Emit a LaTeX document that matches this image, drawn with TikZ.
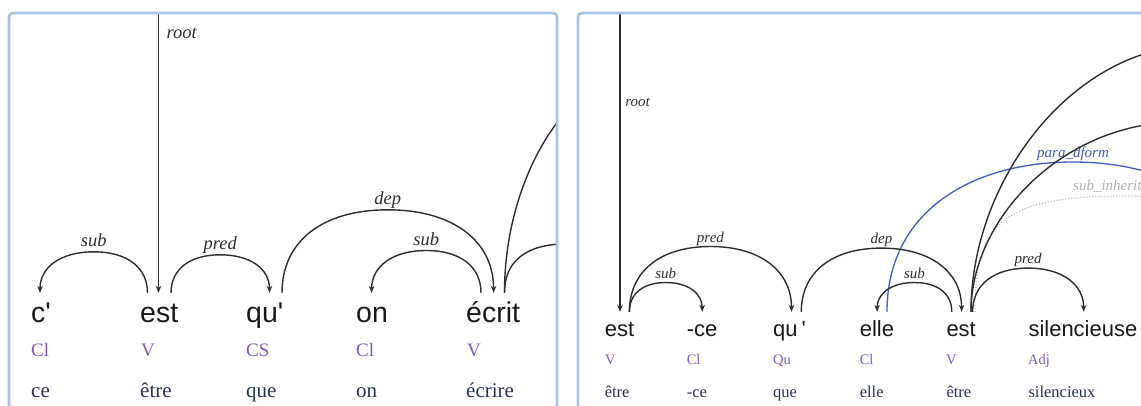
\documentclass[tikz,border=0pt]{standalone}
\usepackage{fontspec}
\setmainfont{Liberation Serif}
\newfontfamily\wordfont{Liberation Sans}[Ligatures=TeXOff]
\usetikzlibrary{arrows.meta,calc}
\definecolor{panelblue}{RGB}{166,194,228}
\definecolor{arcgray}{RGB}{45,45,45}
\definecolor{poscol}{RGB}{128,88,188}
\definecolor{lemcol}{RGB}{38,50,80}
\definecolor{wordcol}{RGB}{25,25,25}
\definecolor{bluearc}{RGB}{66,88,200}
\definecolor{dotgray}{RGB}{175,175,175}
\definecolor{labgray}{RGB}{175,175,175}
\newcommand\cf{0.62}
% #1 label style, #2 start, #3 end, #4 height, #5 signed half width, #6 label
\newcommand\darc[6]{\draw[arcln] (#2) .. controls +(0,{-\cf*#4}) and +({-\cf*#5},0) .. ($(#2)!.5!(#3)+(0,-#4)$) node[#1]{#6} .. controls +({\cf*#5},0) and +(0,{-\cf*#4}) .. (#3);}
\tikzset{
 panel/.style={draw=panelblue, line width=2.8pt, rounded corners=4pt},
 arcln/.style={draw=arcgray, line width=1.4pt, -{Stealth[length=7pt,width=5.5pt]}},
 bigln/.style={draw=arcgray, line width=1.4pt},
 blueln/.style={draw=bluearc, line width=1.3pt},
 dotln/.style={draw=dotgray, line width=1.2pt, dash pattern=on 1pt off 2pt},
 wL/.style={font=\wordfont\fontsize{28.5}{30}\selectfont, text=wordcol, anchor=base west, inner sep=0pt, text height=29pt},
 wR/.style={font=\wordfont\fontsize{22}{24}\selectfont, text=wordcol, anchor=base west, inner sep=0pt, text height=24.7pt},
 posL/.style={font=\fontsize{19}{21}\selectfont, text=poscol, anchor=base west, inner sep=0pt},
 posR/.style={font=\fontsize{14.5}{16}\selectfont, text=poscol, anchor=base west, inner sep=0pt},
 lemL/.style={font=\fontsize{21}{23}\selectfont, text=lemcol, anchor=base west, inner sep=0pt},
 lemR/.style={font=\fontsize{16.5}{18}\selectfont, text=lemcol, anchor=base west, inner sep=0pt},
 labL/.style={font=\fontsize{18.5}{20}\selectfont\itshape, text=arcgray, anchor=base, yshift=5.5pt, inner sep=0pt},
 labR/.style={font=\fontsize{15}{17}\selectfont\itshape, text=arcgray, anchor=base, yshift=4.5pt, inner sep=0pt},
 rootL/.style={font=\fontsize{18.5}{20}\selectfont\itshape, text=arcgray, anchor=west, inner sep=0pt},
 rootR/.style={font=\fontsize{15}{17}\selectfont\itshape, text=arcgray, anchor=west, inner sep=0pt},
 bluelab/.style={labR, text=bluearc},
 grylab/.style={font=\fontsize{15}{17}\selectfont\itshape, text=labgray, anchor=base west, inner sep=0pt},
}
\begin{document}
\begin{tikzpicture}[x=1pt,y=-1pt]
\useasboundingbox (0,0) rectangle (1141,405);
% ---------------- left panel ----------------
\begin{scope}
\clip (9,12) rectangle (556,410);
\node[wL] (L1) at (31,322) {c'};
\node[wL] (L2) at (140,322) {est};
\node[wL] (L3) at (246,322) {qu'};
\node[wL] (L4) at (356,322) {on};
\node[wL] (L5) at (466,322) {écrit};
\node[posL] (LP1) at (31,356) {Cl};
\node[posL] (LP2) at (141,356) {V};
\node[posL] (LP3) at (246,356) {CS};
\node[posL] (LP4) at (356,356) {Cl};
\node[posL] (LP5) at (467,356) {V};
\node[lemL] (LL1) at (31,397) {ce};
\node[lemL] (LL2) at (140,397) {être};
\node[lemL] (LL3) at (246,397) {que};
\node[lemL] (LL4) at (356,397) {on};
\node[lemL] (LL5) at (466,397) {écrire};
\coordinate (l1a) at ([xshift=9pt]L1.north west);
\coordinate (l2a) at ([xshift=7.5pt]L2.north west);
\coordinate (l2b) at ([xshift=31pt]L2.north west);
\coordinate (l3a) at ([xshift=23.5pt]L3.north west);
\coordinate (l3b) at ([xshift=36pt]L3.north west);
\coordinate (l4a) at ([xshift=15.6pt]L4.north west);
\coordinate (l5a) at ([xshift=27.6pt]L5.north west);
\coordinate (l5b) at ([xshift=15pt]L5.north west);
\coordinate (l5c) at ([xshift=38.5pt]L5.north west);
\coordinate (Lroot) at (158.5,11);
\coordinate (LAe) at (560,119);
\coordinate (LBe) at (560,244);
\draw[arcln] (Lroot) -- node[rootL, pos=0.078, xshift=7.5pt]{root} (Lroot |- L2.north);
\darc{labL}{l2a}{l1a}{41}{-53.75}{sub}
\darc{labL}{l2b}{l3a}{38}{49.25}{pred}
\darc{labL}{l3b}{l5a}{83}{105.8}{dep}
\darc{labL}{l5b}{l4a}{42.3}{-54.7}{sub}
\draw[bigln] (l5c) .. controls +(0,-78) and +(-27,33) .. (LAe);
\draw[bigln] (l5c) .. controls +(0,-31) and +(-35,2) .. (LBe);
\end{scope}
\draw[panel] (9,13) rectangle (557,440);
% ---------------- right panel ----------------
\begin{scope}
\clip (578,12) rectangle (1141,410);
\node[wR] (R1) at (604.6,336.7) {est};
\node[wR] (R2) at (686.6,336.7) {-ce};
\node[wR] (R3) at (773,336.7) {qu\hspace{4pt}'};
\node[wR] (R4) at (859.6,336.7) {elle};
\node[wR] (R5) at (946.3,336.7) {est};
\node[wR] (R6) at (1028.3,336.7) {silencieuse};
\node[posR] (RP1) at (605,364) {V};
\node[posR] (RP2) at (686.6,364) {Cl};
\node[posR] (RP3) at (773,364) {Qu};
\node[posR] (RP4) at (859.6,364) {Cl};
\node[posR] (RP5) at (946,364) {V};
\node[posR] (RP6) at (1028,364) {Adj};
\node[lemR] (RL1) at (604.6,397.7) {être};
\node[lemR] (RL2) at (686.6,397.7) {-ce};
\node[lemR] (RL3) at (773,397.7) {que};
\node[lemR] (RL4) at (859.6,397.7) {elle};
\node[lemR] (RL5) at (946.3,397.7) {être};
\node[lemR] (RL6) at (1028.3,397.7) {silencieux};
\coordinate (r1a) at ([xshift=24.8pt]R1.north west);
\coordinate (r2a) at ([xshift=15.6pt]R2.north west);
\coordinate (r3a) at ([xshift=18.5pt]R3.north west);
\coordinate (r3b) at ([xshift=28.3pt]R3.north west);
\coordinate (r4a) at ([xshift=17.5pt]R4.north west);
\coordinate (r4b) at ([xshift=27.4pt]R4.north west);
\coordinate (r5a) at ([xshift=15.3pt]R5.north west);
\coordinate (r5b) at ([xshift=5.5pt]R5.north west);
\coordinate (r5c) at ([xshift=24.7pt]R5.north west);
\coordinate (r5d) at ([xshift=26.3pt]R5.north west);
\coordinate (r5e) at ([xshift=28.7pt]R5.north west);
\coordinate (r6a) at ([xshift=55.4pt]R6.north west);
\coordinate (Rroot) at (620,11);
\coordinate (Rb1t) at (1200,45);
\coordinate (Rb2t) at (1180,122);
\coordinate (Rblt) at (1073,162);
\coordinate (Rble) at (1259,312);
\coordinate (Rdt) at (1125,196);
\coordinate (Rde) at (1330,312);
\draw[arcln] (Rroot) -- node[rootR, pos=0.303, xshift=4.6pt]{root} (Rroot |- R1.north);
\draw[dotln] (r5e) .. controls +(0,-87) and +(-125,0) .. (Rdt) .. controls +(80,0) and +(0,-87) .. (Rde);
\node[grylab] (Rsi) at (1073,190) {sub\_inherit};
\draw[blueln] (r4b) .. controls +(0,-100) and +(-102,0) .. (Rblt) node[bluelab]{para\_dform} .. controls +(102,0) and +(0,-100) .. (Rble);
\darc{labR}{r1a}{r2a}{29.3}{36.4}{sub}
\darc{labR}{r1a}{r3a}{65.3}{81.05}{pred}
\darc{labR}{r3b}{r5a}{63.7}{80.15}{dep}
\darc{labR}{r5b}{r4a}{29.3}{-37.35}{sub}
\darc{labR}{r5d}{r6a}{43.7}{55.55}{pred}
\draw[bigln] (r5c) .. controls +(0,-133) and +(-126,0) .. (Rb1t);
\draw[bigln] (r5c) .. controls +(0,-95) and +(-115,0) .. (Rb2t);
\end{scope}
\draw[panel] (578,13) rectangle (1170,440);
\end{tikzpicture}
\end{document}
